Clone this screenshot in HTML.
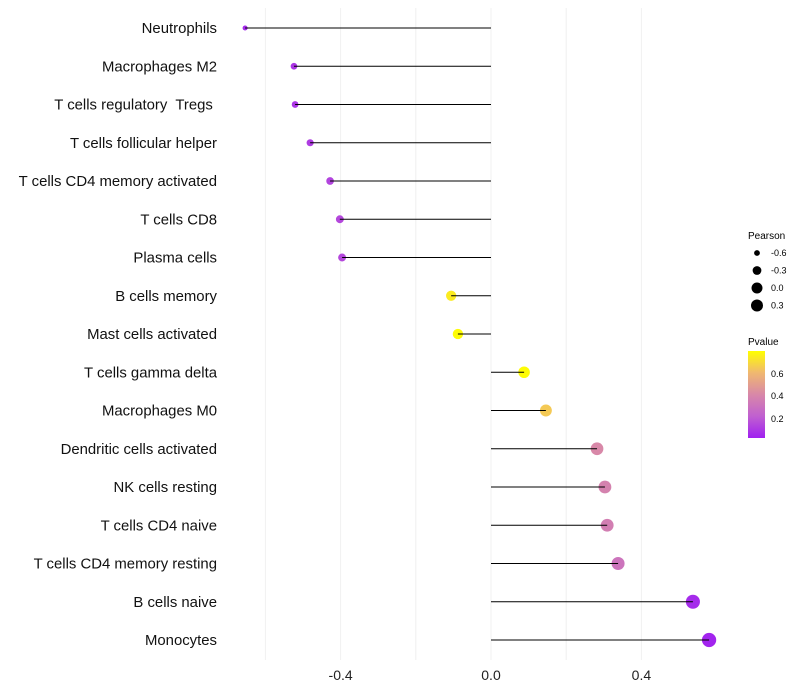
<!DOCTYPE html>
<html><head><meta charset="utf-8"><style>
body{margin:0;background:#fff;font-family:"Liberation Sans",sans-serif}
svg{display:block}
text{white-space:pre}
</style></head><body>
<svg id="chart" width="800" height="700">
<defs><linearGradient id="pg" x1="0" y1="1" x2="0" y2="0">
<stop offset="0" stop-color="#a020f0"/><stop offset="0.25" stop-color="#c060d0"/><stop offset="0.5" stop-color="#d888a8"/><stop offset="0.75" stop-color="#f0b870"/><stop offset="1" stop-color="#ffff00"/></linearGradient></defs>
<g id="grid"></g><g id="dots"></g><g id="marks"></g><g id="labels"></g>
<g font-size="9" fill="#000">
<text x="748" y="239" font-size="10">Pearson</text>
<g id="sizeleg"></g>
<text x="748" y="345" font-size="10">Pvalue</text>
<rect x="748" y="351" width="17" height="87" fill="url(#pg)"/>
<text x="771" y="377">0.6</text>
<text x="771" y="399">0.4</text>
<text x="771" y="422">0.2</text>
</g>
</svg>
<script>
const categories=["Neutrophils","Macrophages M2","T cells regulatory  Tregs ","T cells follicular helper","T cells CD4 memory activated","T cells CD8","Plasma cells","B cells memory","Mast cells activated","T cells gamma delta","Macrophages M0","Dendritic cells activated","NK cells resting","T cells CD4 naive","T cells CD4 memory resting","B cells naive","Monocytes"];
const pearson=[-0.654,-0.524,-0.521,-0.481,-0.428,-0.402,-0.396,-0.106,-0.088,0.088,0.146,0.282,0.303,0.309,0.338,0.537,0.580];
const pvalues=[0.05,0.08,0.08,0.10,0.12,0.13,0.13,0.75,0.80,0.80,0.65,0.40,0.37,0.35,0.30,0.05,0.03];
const xTicks=[-0.4,0.0,0.4];
const gridTicks=[-0.6,-0.4,-0.2,0,0.2,0.4];
const sizeLegend=[-0.6,-0.3,0.0,0.3];
const NS="http://www.w3.org/2000/svg";
const xs=v=>491+v*376;
const ys=i=>28+i*38.25;
const rs=v=>Math.sqrt(Math.max(3,30+36*v));
const stops=[[0.02,[160,32,240]],[0.2,[192,96,208]],[0.4,[216,136,168]],[0.6,[240,184,112]],[0.81,[255,255,0]]];
function col(p){if(p<=stops[0][0])return `rgb(${stops[0][1]})`;for(let i=1;i<stops.length;i++){if(p<=stops[i][0]){const a=stops[i-1],b=stops[i],t=(p-a[0])/(b[0]-a[0]);return `rgb(${a[1].map((c,k)=>Math.round(c+(b[1][k]-c)*t))})`;}}return "rgb(255,255,0)";}
function mk(t,a,p){const e=document.createElementNS(NS,t);for(const k in a)e.setAttribute(k,a[k]);p.appendChild(e);return e;}
const grid=document.getElementById('grid'),marks=document.getElementById('marks'),dots=document.getElementById('dots'),labels=document.getElementById('labels');
gridTicks.forEach(v=>{const l=mk('line',{x1:xs(v),x2:xs(v),y1:8,y2:660,stroke:'#f0f0f0','stroke-width':1},grid);

});
xTicks.forEach(v=>{const t=mk('text',{x:xs(v),y:680,'text-anchor':'middle','font-size':14,fill:'#222'},labels);t.textContent=v.toFixed(1);

});
categories.forEach((c,i)=>{const y=ys(i);
const t=mk('text',{x:217,y:y+5,'text-anchor':'end','font-size':14.9,fill:'#111'},labels);t.textContent=c;


const l=mk('line',{x1:xs(0),x2:xs(pearson[i]),y1:y,y2:y,stroke:'#000','stroke-width':1},marks);


const d=mk('circle',{cx:xs(pearson[i]),cy:y,r:rs(pearson[i]),fill:col(pvalues[i])},dots);

});
const sl=document.getElementById('sizeleg');
sizeLegend.forEach((v,i)=>{const y=253+i*17.5;
const c=mk('circle',{cx:757,cy:y,r:Math.min(6,rs(v)),fill:'#000'},sl);


const t=mk('text',{x:771,y:y+3,'font-size':9},sl);t.textContent=v.toFixed(1);

});
</script>
</body></html>
